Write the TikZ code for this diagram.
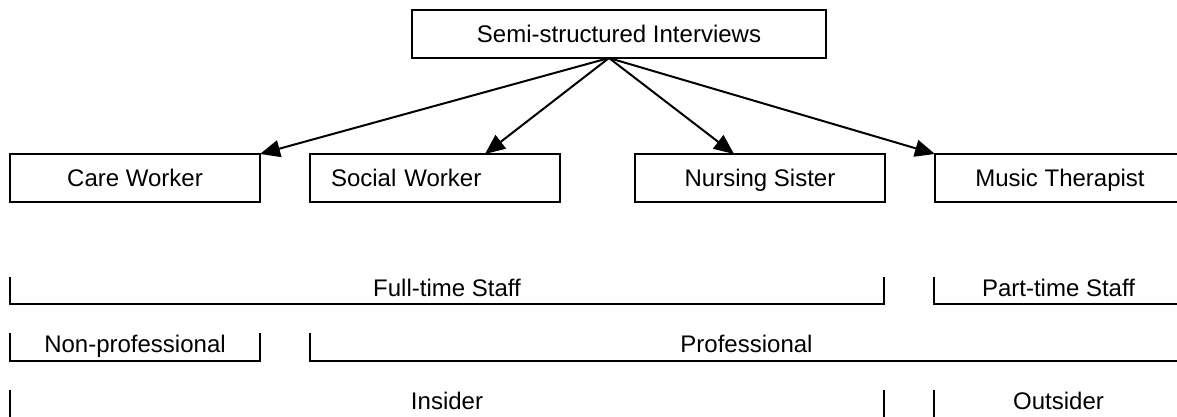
\documentclass[tikz,border=0pt]{standalone}
\usepackage{fontspec}
\setmainfont{Liberation Sans}
\usetikzlibrary{arrows.meta,positioning}
\tikzset{
  box/.style={draw,line width=1pt,minimum width=125pt,minimum height=24pt,inner sep=0pt,outer sep=0pt,
    text height=8.6pt,text depth=0pt,font=\fontsize{12}{14}\selectfont},
  link/.style={line width=1pt,-{Triangle[length=10pt,width=8.5pt]}},
  brace/.style={line width=1.3pt},
  grp/.style={anchor=base,inner sep=0pt,font=\fontsize{12}{14}\selectfont}
}
\begin{document}
\begin{tikzpicture}[x=0.5pt,y=-0.5pt]
\clip (0,0) rectangle (1177,417);
% interview method and the four staff members
\node[box,minimum width=207pt] (interviews) at (619,34) {Semi-structured Interviews};
\node[box] (care) at (135,178) {Care Worker};
\node[box,right=25pt of care,text width=104pt,align=left,inner xsep=10.5pt] (social) {Social Worker};
\node[box,right=37.5pt of social] (nursing) {Nursing Sister};
\node[box,right=25pt of nursing] (music) {Music Therapist};
\coordinate (src) at ([xshift=-5pt]interviews.south);
\draw[link] (src) -- (care.north east);
\draw[link] (src) -- ([xshift=25pt]social.north);
\draw[link] (src) -- ([xshift=-13pt]nursing.north);
\draw[link] (src) -- (music.north west);
% groupings underneath
\foreach \a/\b/\y/\d/\txt [count=\i] in {10/884/277/27/Full-time Staff, 934/1183/277/27/Part-time Staff,
    10/260/333/28/Non-professional, 310/1183/333/28/Professional,
    10/884/390/40/Insider, 934/1183/390/40/Outsider}
  \draw[brace] (\a,\y) -- (\a,\y+\d) -- (\b,\y+\d) -- (\b,\y)
    node[grp] (grp\i) at ({(\a+\b)/2},\y+19) {\txt};
\end{tikzpicture}
\end{document}
